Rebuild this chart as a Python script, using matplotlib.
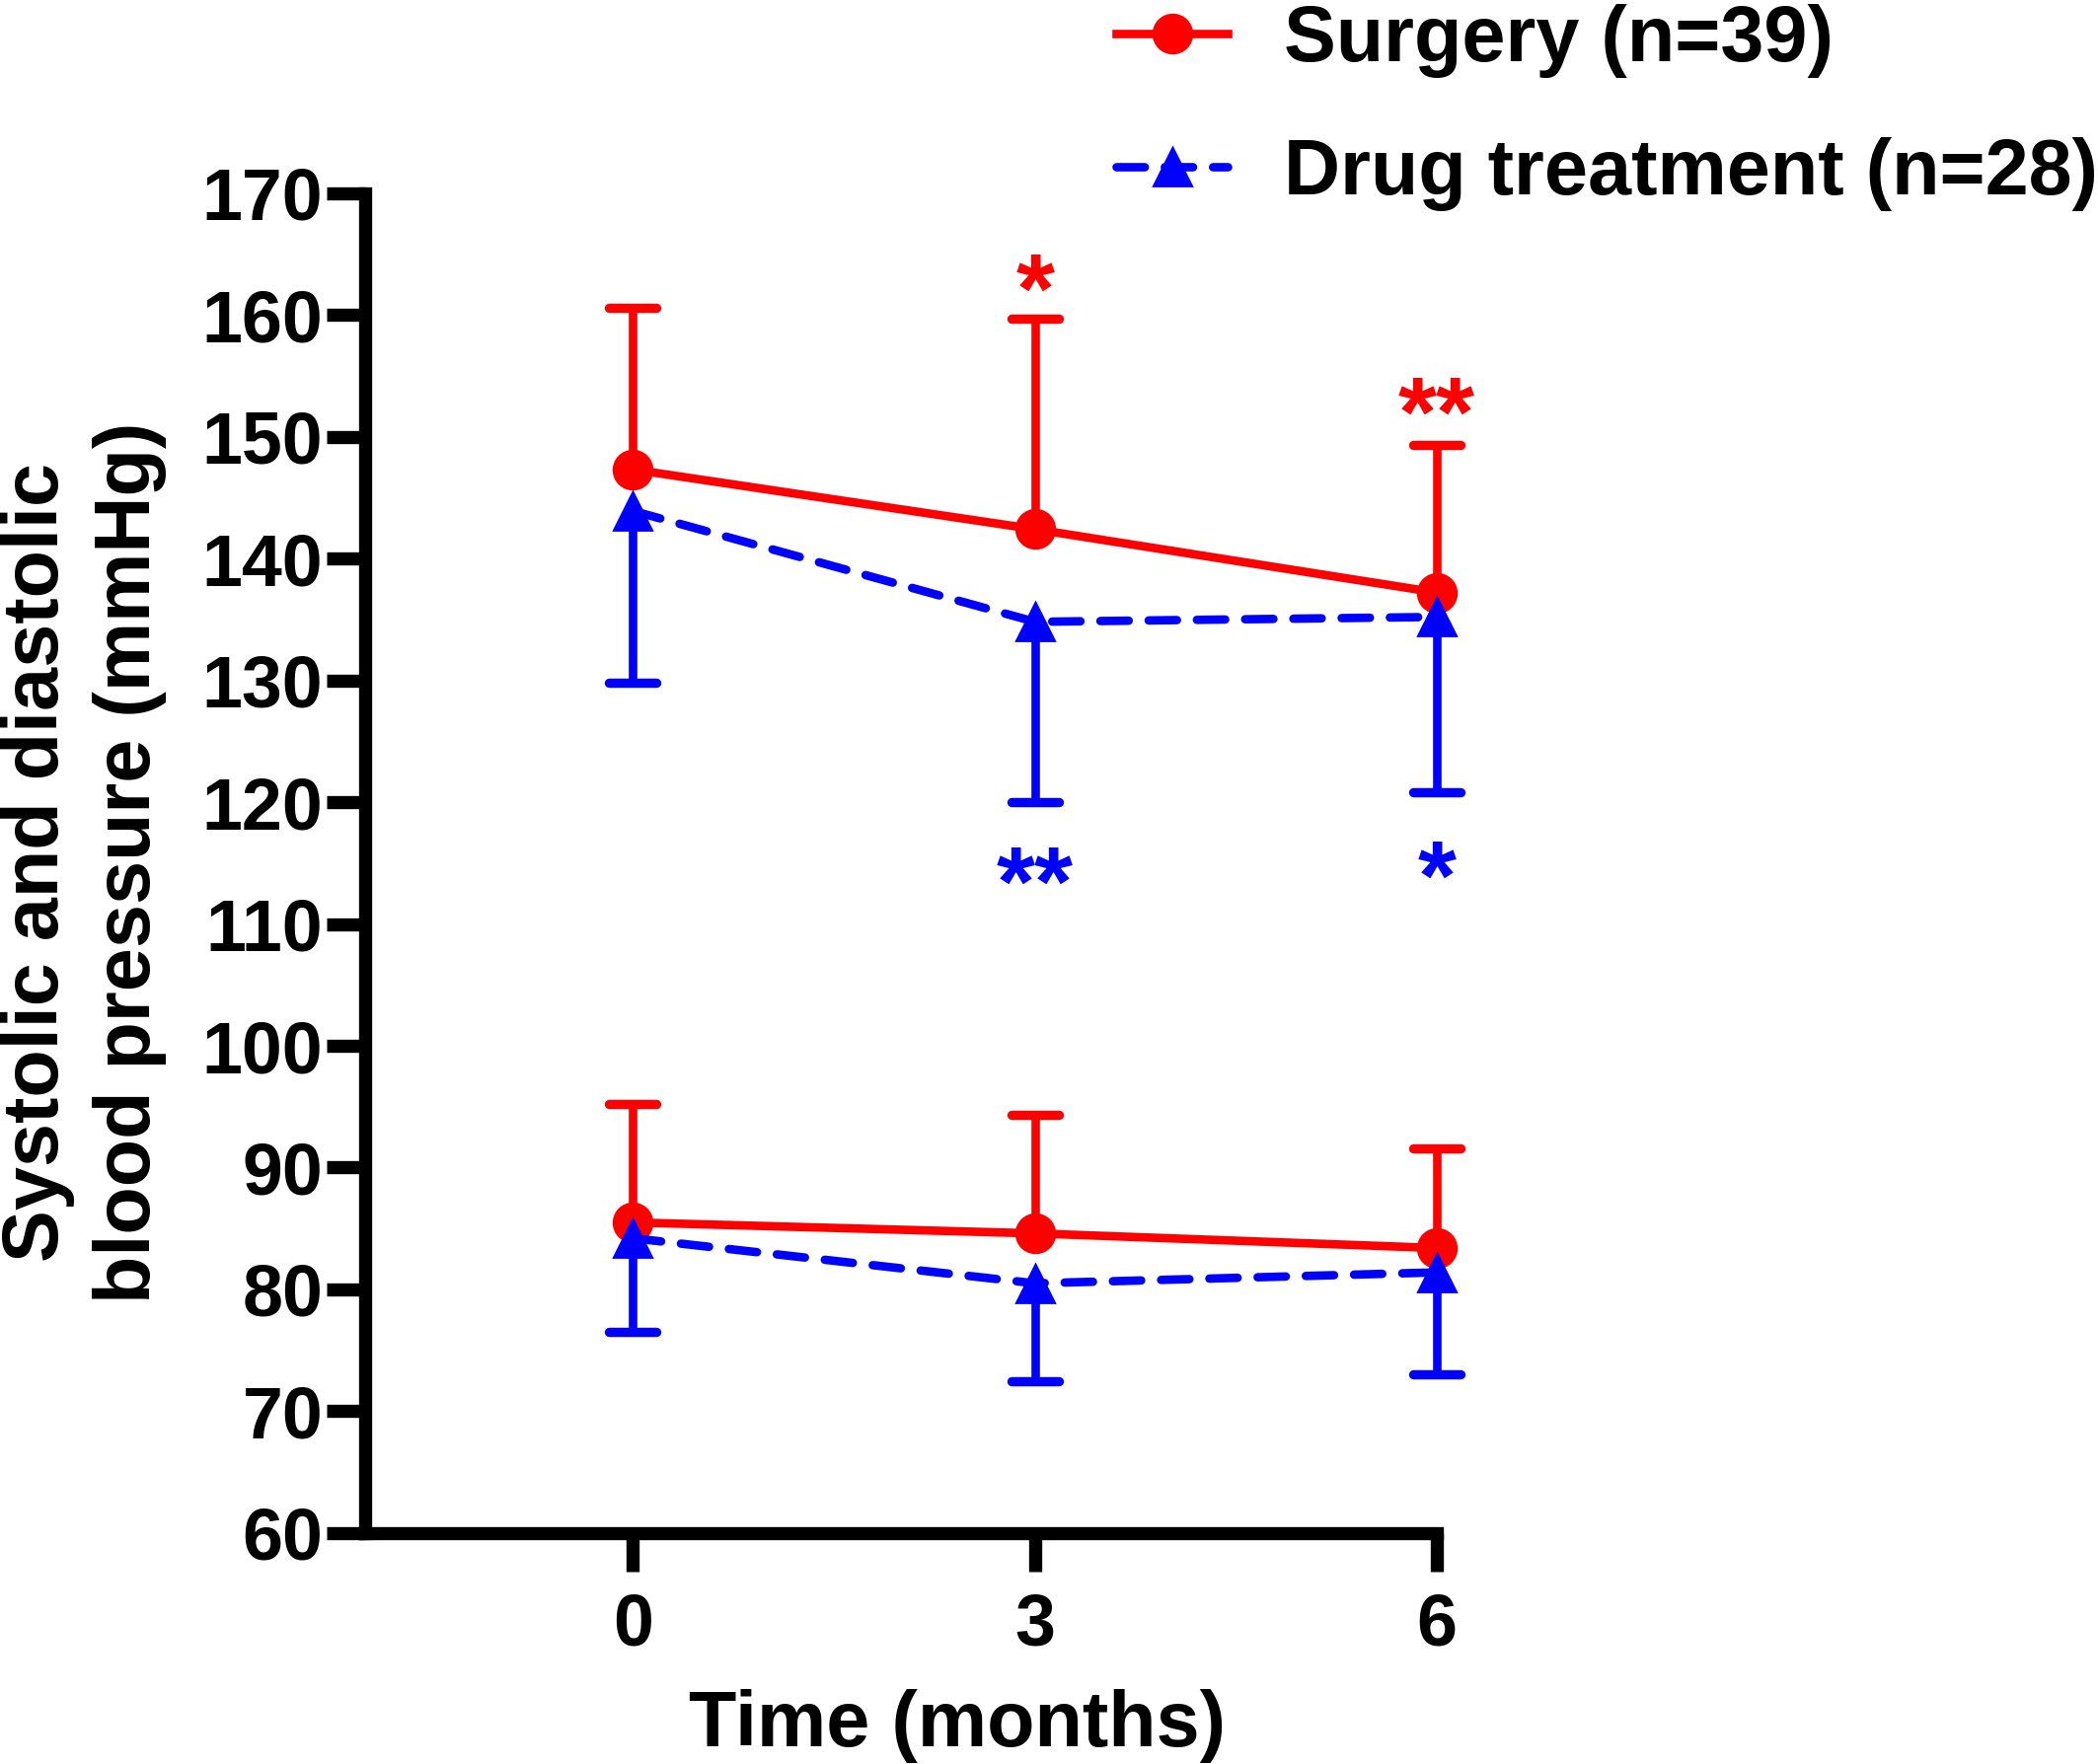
import numpy as np
import matplotlib
matplotlib.use("Agg")
import matplotlib.pyplot as plt
from matplotlib.lines import Line2D
from matplotlib.markers import MarkerStyle

plt.rcParams['font.family'] = ['Liberation Sans', 'DejaVu Sans']
plt.rcParams['font.weight'] = 'bold'
plt.rcParams['lines.scale_dashes'] = False

months = [0, 3, 6]

# systolic
surg_sys = [147.3, 142.4, 137.2]
surg_sys_sd = [13.3, 17.3, 12.1]
drug_sys = [143.9, 134.8, 135.2]
drug_sys_sd = [14.1, 14.8, 14.4]

# diastolic
surg_dia = [85.5, 84.6, 83.4]
surg_dia_sd = [9.7, 9.7, 8.2]
drug_dia = [84.2, 80.5, 81.4]
drug_dia_sd = [7.7, 8.0, 8.4]

# significance marks: (x, y, text)
surg_marks = [(3, 164.0, '*'), (6, 153.8, '**')]
drug_marks = [(3, 115.3, '**'), (6, 115.8, '*')]

surg_label = 'Surgery (n=39)'
drug_label = 'Drug treatment (n=28)'

RED = '#ff0000'
BLUE = '#0000ff'
LW = 3.1
ELW = 3.1
MS = 13.9
DASH = (10.3, 7.3)

fig = plt.figure(figsize=(10.63, 8.94), dpi=200)
ax = fig.add_axes([0.1740, 0.1309, 0.6849 - 0.1740, 0.8906 - 0.1309])

cap = MarkerStyle('_', capstyle='round')


def draw_bars(x, mean, sd, sign, color):
    mean = np.asarray(mean)
    end = mean + sign * np.asarray(sd)
    ax.vlines(x, mean, end, colors=color, linewidth=ELW, zorder=2,
              clip_on=False)
    ax.plot(x, end, linestyle='none', marker=cap, markersize=17.6,
            markeredgewidth=3.4, color=color, zorder=2, clip_on=False)


# error bars (surgery upward, drug downward)
draw_bars(months, surg_sys, surg_sys_sd, 1, RED)
draw_bars(months, surg_dia, surg_dia_sd, 1, RED)
draw_bars(months, drug_sys, drug_sys_sd, -1, BLUE)
draw_bars(months, drug_dia, drug_dia_sd, -1, BLUE)

for vals in (surg_sys, surg_dia):
    ax.plot(months, vals, color=RED, linewidth=LW, marker='o', markersize=MS,
            solid_capstyle='round', zorder=3, clip_on=False)
for vals in (drug_sys, drug_dia):
    ax.plot(months, vals, color=BLUE, linewidth=LW, linestyle=(0, DASH),
            dash_capstyle='round', marker='^', markersize=MS, zorder=4,
            clip_on=False)

for marks, color in ((surg_marks, RED), (drug_marks, BLUE)):
    for x, y, s in marks:
        ax.annotate(s, (x, y), xytext=(0, -0.565 * 36),
                    textcoords='offset points', ha='center', va='baseline',
                    fontsize=36, color=color, fontweight='bold',
                    annotation_clip=False)

ax.set_xlim(-2, 6)
ax.set_ylim(60, 170)
ax.set_xticks(months)
ax.set_yticks(np.arange(60, 171, 10))
ax.spines['top'].set_visible(False)
ax.spines['right'].set_visible(False)
for side in ('left', 'bottom'):
    ax.spines[side].set_linewidth(4.8)
    ax.spines[side].set_capstyle('projecting')
ax.tick_params(axis='both', length=13.9, width=4.8, labelsize=26.5)
ax.tick_params(axis='y', pad=1.5)
ax.tick_params(axis='x', pad=7.7)
for lab in ax.get_xticklabels() + ax.get_yticklabels():
    lab.set_fontweight('bold')

fig.text(0.4563, 0.0218, 'Time (months)', ha='center', va='center',
         fontsize=28.5, fontweight='bold')
fig.text(0.0400, 0.511, 'Systolic and diastolic\nblood pressure (mmHg)',
         ha='center', va='center', rotation=90, fontsize=28.5,
         fontweight='bold', linespacing=1.3)

handles = [
    Line2D([], [], color=RED, linewidth=LW, marker='o', markersize=MS),
    Line2D([], [], color=BLUE, linewidth=LW, linestyle=(0, DASH),
           dash_capstyle='round', marker='^', markersize=MS),
]
leg = fig.legend(handles, [surg_label, drug_label], loc='upper left',
                 bbox_to_anchor=(0.532, 0.9978), frameon=False, borderpad=0,
                 borderaxespad=0, fontsize=28.5, handlelength=1.43,
                 handletextpad=0.72, labelspacing=0.76, numpoints=1)
for t in leg.get_texts():
    t.set_fontweight('bold')

fig.savefig('out.png', dpi=200)
